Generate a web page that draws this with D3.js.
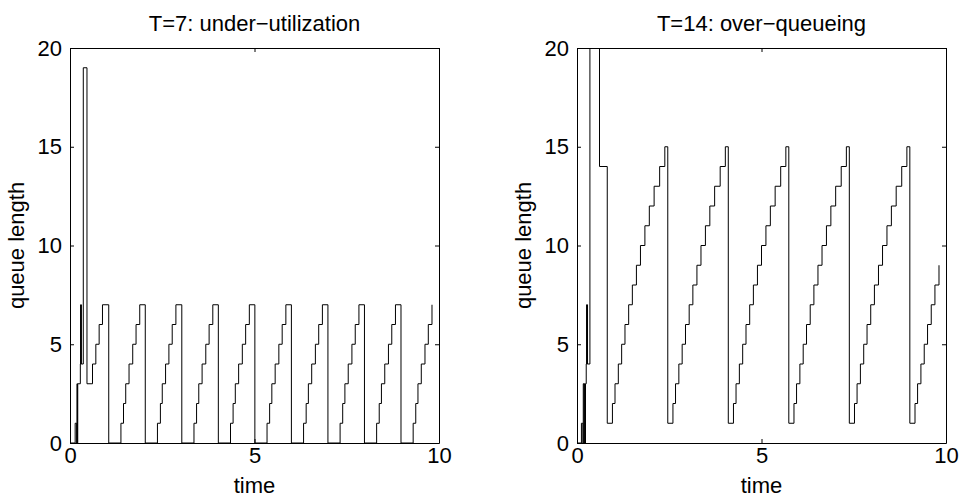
<!DOCTYPE html>
<html>
<head>
<meta charset="utf-8">
<script src="https://cdn.jsdelivr.net/npm/d3@7"></script>
<style>
body { margin: 0; background: #fff; }
text { font-family: "Liberation Sans", Arial, Helvetica, sans-serif; fill: #000; }
</style>
</head>
<body>
<div id="graphic"></div>
<script>
var xTicks = [0, 5, 10];
var yTicks = [0, 5, 10, 15, 20];
var titles = ["T=7: under\u2212utilization", "T=14: over\u2212queueing"];
var xLabel = "time";
var yLabel = "queue length";

// T=7 run (left panel): time of each change, queue length from then on
var underTimes = [0, 0.14, 0.18, 0.19, 0.20, 0.21, 0.28, 0.29, 0.295, 0.30, 0.305, 0.36, 0.46, 0.61, 0.70, 0.79, 0.88, 1.05,
  1.38, 1.45, 1.51, 1.60, 1.70, 1.79, 1.89, 2.04,
  2.37, 2.45, 2.50, 2.59, 2.68, 2.77, 2.87, 3.03,
  3.36, 3.43, 3.49, 3.58, 3.68, 3.77, 3.87, 4.02,
  4.35, 4.42, 4.48, 4.57, 4.67, 4.76, 4.86, 5.01,
  5.34, 5.41, 5.47, 5.56, 5.66, 5.75, 5.85, 6.00,
  6.33, 6.40, 6.46, 6.55, 6.65, 6.74, 6.84, 6.99,
  7.32, 7.39, 7.45, 7.54, 7.64, 7.73, 7.83, 7.98,
  8.31, 8.38, 8.44, 8.53, 8.63, 8.72, 8.82, 8.97,
  9.30, 9.37, 9.43, 9.52, 9.62, 9.71, 9.81];
var underQueue = [0, 1, 0, 3, 0, 3, 4, 7, 4, 7, 4, 19, 3, 4, 5, 6, 7, 0,
  1, 2, 3, 4, 5, 6, 7, 0,
  1, 2, 3, 4, 5, 6, 7, 0,
  1, 2, 3, 4, 5, 6, 7, 0,
  1, 2, 3, 4, 5, 6, 7, 0,
  1, 2, 3, 4, 5, 6, 7, 0,
  1, 2, 3, 4, 5, 6, 7, 0,
  1, 2, 3, 4, 5, 6, 7, 0,
  1, 2, 3, 4, 5, 6, 7, 0,
  1, 2, 3, 4, 5, 6, 7];

// T=14 run (right panel)
var overTimes = [0, 0.12, 0.16, 0.17, 0.19, 0.20, 0.22, 0.23, 0.25, 0.26, 0.27, 0.28, 0.285, 0.35, 0.61,
  0.82, 0.96, 1.03, 1.12, 1.21, 1.30, 1.40, 1.50, 1.61, 1.72, 1.84, 1.96, 2.09, 2.24, 2.38,
  2.46, 2.60, 2.67, 2.76, 2.85, 2.94, 3.04, 3.14, 3.25, 3.36, 3.48, 3.60, 3.73, 3.88, 4.02,
  4.10, 4.24, 4.31, 4.40, 4.49, 4.58, 4.68, 4.78, 4.89, 5.00, 5.12, 5.24, 5.37, 5.52, 5.66,
  5.74, 5.88, 5.95, 6.04, 6.13, 6.22, 6.32, 6.42, 6.53, 6.64, 6.76, 6.88, 7.01, 7.16, 7.30,
  7.38, 7.52, 7.59, 7.68, 7.77, 7.86, 7.96, 8.06, 8.17, 8.28, 8.40, 8.52, 8.65, 8.80, 8.94,
  9.02, 9.16, 9.23, 9.32, 9.41, 9.50, 9.60, 9.70, 9.81];
var overQueue = [0, 1, 0, 3, 0, 3, 0, 3, 4, 7, 4, 7, 4, 24, 14,
  1, 2, 3, 4, 5, 6, 7, 8, 9, 10, 11, 12, 13, 14, 15,
  1, 2, 3, 4, 5, 6, 7, 8, 9, 10, 11, 12, 13, 14, 15,
  1, 2, 3, 4, 5, 6, 7, 8, 9, 10, 11, 12, 13, 14, 15,
  1, 2, 3, 4, 5, 6, 7, 8, 9, 10, 11, 12, 13, 14, 15,
  1, 2, 3, 4, 5, 6, 7, 8, 9, 10, 11, 12, 13, 14, 15,
  1, 2, 3, 4, 5, 6, 7, 8, 9];

var width = 959;
var height = 499;
var panelLeft = [70, 577];
var panelWidth = 369;
var plotTop = 48;
var plotBottom = 443;
var tickLen = 4;
var fontSize = 22;

var svg = d3.select("#graphic")
  .append("svg")
  .attr("width", width)
  .attr("height", height);

function styleAxis(g) {
  g.attr("font-size", fontSize)
    .attr("font-family", null);
  g.select(".domain").attr("stroke", "#000");
  g.selectAll(".tick line").attr("stroke", "#000");
}

function renderPanel(i, times, queue) {
  var x0 = panelLeft[i];
  var xScale = d3.scaleLinear().domain([0, 10]).range([x0, x0 + panelWidth]);
  var yScale = d3.scaleLinear().domain([0, 20]).range([plotBottom, plotTop]);
  var g = svg.append("g");

  g.append("clipPath")
    .attr("id", "clip" + i)
    .append("rect")
    .attr("x", x0)
    .attr("y", plotTop)
    .attr("width", panelWidth)
    .attr("height", plotBottom - plotTop);

  var points = times.map((t, j) => [t, queue[j]]);

  g.append("path")
    .datum(points)
    .attr("clip-path", "url(#clip" + i + ")")
    .attr("fill", "none")
    .attr("stroke", "#000")
    .attr("stroke-width", 1)
    .attr("d", d3.line()
      .x(d => xScale(d[0]))
      .y(d => yScale(d[1]))
      .curve(d3.curveStepAfter));

  g.append("g")
    .attr("transform", "translate(0," + plotBottom + ")")
    .call(d3.axisBottom(xScale).tickValues(xTicks).tickSizeInner(-tickLen).tickSizeOuter(0).tickPadding(4))
    .call(styleAxis);
  g.append("g")
    .attr("transform", "translate(0," + plotTop + ")")
    .call(d3.axisTop(xScale).tickValues(xTicks).tickSizeInner(-tickLen).tickSizeOuter(0).tickFormat(""))
    .call(styleAxis);
  g.append("g")
    .attr("transform", "translate(" + x0 + ",0)")
    .call(d3.axisLeft(yScale).tickValues(yTicks).tickSizeInner(-tickLen).tickSizeOuter(0).tickPadding(8))
    .call(styleAxis);
  g.append("g")
    .attr("transform", "translate(" + (x0 + panelWidth) + ",0)")
    .call(d3.axisRight(yScale).tickValues(yTicks).tickSizeInner(-tickLen).tickSizeOuter(0).tickFormat(""))
    .call(styleAxis);

  var cx = x0 + panelWidth / 2;
  g.append("text")
    .attr("x", cx)
    .attr("y", 31)
    .attr("text-anchor", "middle")
    .attr("font-size", fontSize)
    .text(titles[i]);

  g.append("text")
    .attr("x", cx)
    .attr("y", 493)
    .attr("text-anchor", "middle")
    .attr("font-size", fontSize)
    .text(xLabel);

  g.append("text")
    .attr("transform", "translate(" + (x0 - 46) + "," + ((plotTop + plotBottom) / 2) + ") rotate(-90)")
    .attr("text-anchor", "middle")
    .attr("font-size", fontSize)
    .text(yLabel);
}

renderPanel(0, underTimes, underQueue);
renderPanel(1, overTimes, overQueue);
</script>
</body>
</html>
